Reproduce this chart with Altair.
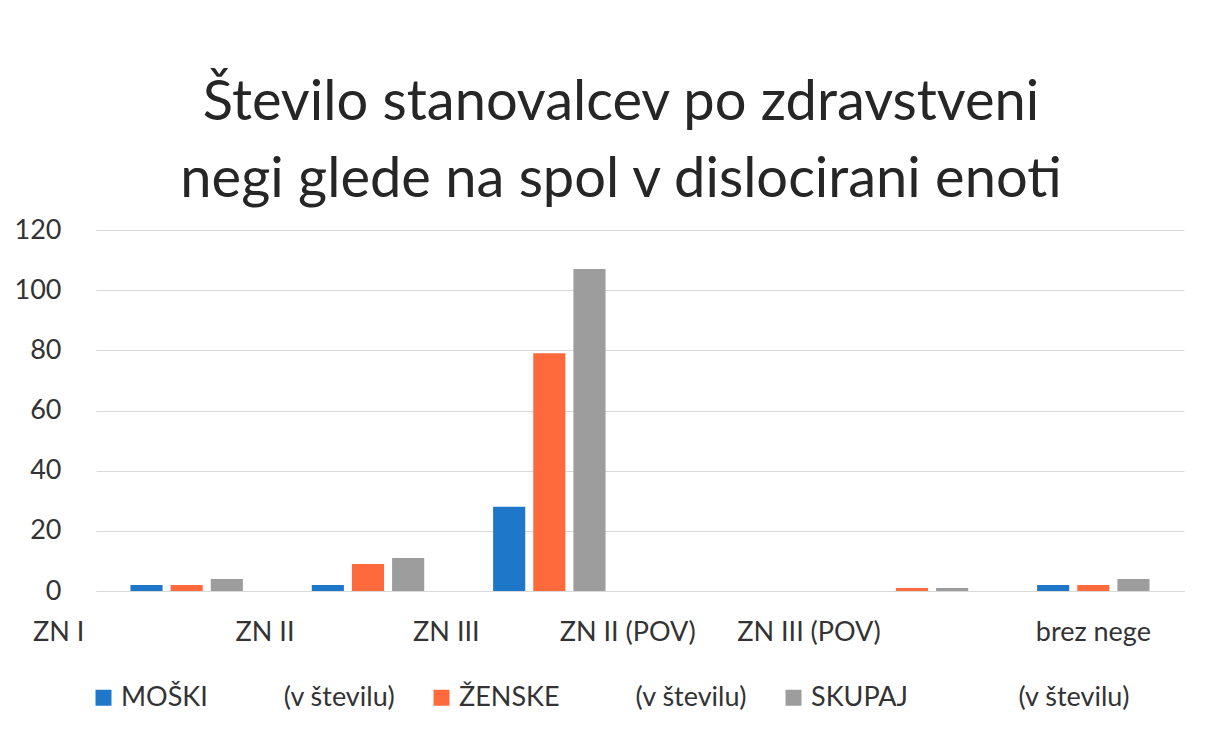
import altair as alt
import pandas as pd

categories = ["ZN I", "ZN II", "ZN III", "ZN II (POV)", "ZN III (POV)", "brez nege"]
series = ["MOŠKI", "ŽENSKE", "SKUPAJ"]
moski = [2, 2, 28, 0, 0, 2]
zenske = [2, 9, 79, 0, 1, 2]
skupaj = [4, 11, 107, 0, 1, 4]
colors = ["#1f77c9", "#ff6a3d", "#9d9d9d"]
y_ticks = [0, 20, 40, 60, 80, 100, 120]

rows = []
for i, c in enumerate(categories):
    for s, vals in zip(series, [moski, zenske, skupaj]):
        rows.append({"kategorija": c, "spol": s, "vrednost": vals[i]})
df = pd.DataFrame(rows)

FONT = "Lato"
NB = "\u00a0"
label_expr = (
    "datum.label == 'MOŠKI' ? datum.label + '" + NB * 11 + "(v številu)' : "
    "datum.label == 'ŽENSKE' ? datum.label + '" + NB * 11 + "(v številu)' : "
    "datum.label + '" + NB * 16 + "(v številu)'"
)

chart = alt.Chart(df).mark_bar().encode(
    x=alt.X("kategorija:N", sort=categories,
            scale=alt.Scale(paddingInner=0.38, paddingOuter=0.19),
            axis=alt.Axis(title=None, labelAngle=0, ticks=False,
                          domainColor="#d9d9d9", labelFontSize=27,
                          labelColor="#333333", labelFont=FONT, labelPadding=28,
                          labelOffset=alt.ExprRef("datum.value == 'ZN I' ? -128 : datum.value == 'brez nege' ? 0 : -103"))),
    xOffset=alt.XOffset("spol:N", sort=series,
                        scale=alt.Scale(paddingInner=0.2, paddingOuter=0)),
    y=alt.Y("vrednost:Q",
            scale=alt.Scale(domain=[0, 120], nice=False),
            axis=alt.Axis(title=None, values=y_ticks, ticks=False, domain=False,
                          gridColor="#d9d9d9", labelFontSize=27, labelColor="#333333",
                          labelFont=FONT, labelPadding=35)),
    color=alt.Color("spol:N", sort=series,
                    scale=alt.Scale(domain=series, range=colors),
                    legend=alt.Legend(title=None, orient="none", direction="horizontal",
                                      legendX=-6, legendY=454,
                                      symbolType="square", symbolSize=256,
                                      symbolStrokeWidth=0, labelFontSize=27,
                                      labelFont=FONT, labelColor="#333333",
                                      labelLimit=600, columnPadding=32,
                                      labelOffset=4, labelExpr=label_expr)),
).properties(
    width=1088,
    height=361,
    title=alt.TitleParams(
        text=["Število stanovalcev po zdravstveni", "negi glede na spol v dislocirani enoti"],
        fontSize=56, font=FONT, fontWeight="normal", color="#262626",
        anchor="middle", frame="group", lineHeight=77, offset=7, dx=-19,
    ),
    padding={"left": 6, "top": 67, "right": 10, "bottom": 10},
).configure_view(stroke=None)

chart.save("out.html", embed_options={"renderer": "svg", "actions": False})
